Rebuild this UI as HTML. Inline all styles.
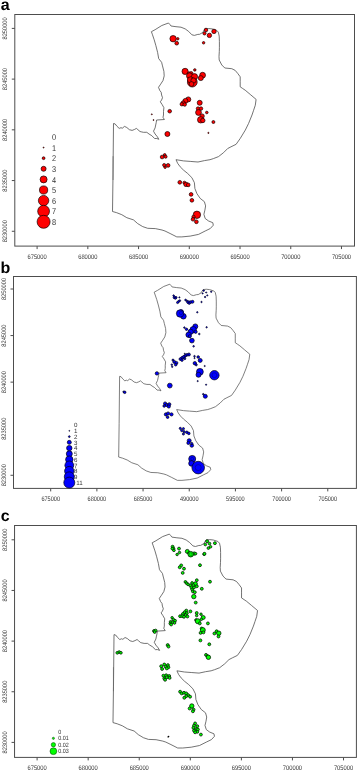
<!DOCTYPE html>
<html><head><meta charset="utf-8"><style>
html,body{margin:0;padding:0;background:#fff;}
body{width:358px;height:771px;overflow:hidden;}
svg{display:block;will-change:transform;filter:blur(0.3px);text-rendering:geometricPrecision;}
.lab{font:bold 16px 'Liberation Sans',sans-serif;fill:#000;}
.tl{font:6.6px 'Liberation Sans',sans-serif;fill:#333;}
.tly{font:6.5px 'Liberation Sans',sans-serif;fill:#333;}
.lg{font:8.4px 'Liberation Sans',sans-serif;fill:#333;}
.frame{fill:none;stroke:#4d4d4d;stroke-width:1.0;}
.tick{stroke:#4d4d4d;stroke-width:1.0;}
.poly{fill:none;stroke:#444;stroke-width:0.75;stroke-linejoin:round;}
.r{fill:#f00;stroke:#100;stroke-width:0.7;}
.bl{fill:#00f;stroke:#001;stroke-width:0.7;}
.g{fill:#0f0;stroke:#010;stroke-width:0.75;}
.gl{fill:#0f0;stroke:#030;stroke-width:0.5;}
.ring{fill:none;stroke:#002;stroke-width:0.4;opacity:0.8;}
.lgb{font:6.2px 'Liberation Sans',sans-serif;fill:#333;}
.lgc{font:6.2px 'Liberation Sans',sans-serif;fill:#333;}
</style></head><body>
<svg width="358" height="771" viewBox="0 0 358 771">
<defs><path id="P" d="M158.8,139.3 157.4,136.8 155.1,134 153.5,131.2 155.1,127.9 155.7,125 156.2,122.7 156.6,120 164.4,119.5 163,117.3 163.5,115 163.5,111.4 163.9,107.7 162.1,104.5 160.3,101.8 161.6,100 162.5,97.7 161.6,95 161.2,92.3 159.8,90.5 158.5,87.3 160.7,84.1 163,80.5 164.2,75.9 163.9,71.4 162.5,65.9 161.6,62.3 158.7,58.6 157.6,52.4 155.9,45.7 154.2,39.8 152.5,34.8 151.4,31.7 155.1,29.7 161.8,25.5 168.5,23 169.8,24.4 171,26 176,26.7 181,27.2 185.2,28.9 188.6,31.4 191.9,34.8 194.4,35.4 197.8,34.4 199.6,34.3 202.7,32.5 204.9,28.9 208.5,28.5 212.1,28.9 216.6,30.3 218.3,32.1 219.2,36.1 219.4,41.4 219.4,47.7 219.3,51.5 219,56.5 219.2,60 221.8,65 224.8,68 231.8,68.7 235.2,70.4 237.7,73.4 240.2,76.8 240.2,81.8 240.2,86.8 242.7,88.5 245.2,90.2 250.2,94.4 256.1,99.4 255.3,105.2 253.6,110.3 252,115 248.6,123.4 245.3,130.1 240.2,138.5 236.1,144.3 231,146.8 227.7,148.5 223.5,152.7 218.5,156.6 213.4,158.6 210,159.7 204.5,160.6 198,162 190.2,161.4 183.5,160.9 176,159.7 177.7,163.4 180.2,166.8 183.5,170.1 187.7,173.5 191.9,177.7 194.4,182.7 194.9,188.5 196.9,193.6 200.2,198.4 204.4,201.7 205.6,205.9 204.9,210.1 203.9,214.3 205.2,218.5 208.6,221 212.8,222.7 213.3,225.2 210.3,228.5 205.2,231 198.5,234.4 190.2,236.1 181.8,236.9 176.8,236.9 170.1,233.5 165,231 162,230 155.3,228.6 147.7,228.3 142.7,226.6 137.7,223.6 133.5,219.9 126.8,217.7 121.8,214.7 116.7,212.7 112.5,211.5 113,175 113.5,123.5 115.1,123.9 116.9,126.2 119.2,128.4 121,127.7 122.3,128.2 124.5,126.4 126.8,127.5 129.4,129.7 132.1,130.4 134.4,129.5 136.4,128.4 137.9,129.7 140,131.5 141.2,131.8 143.4,132.3 146.8,132.3 149,134 151.8,135.7 154.6,138.5 156.8,138.5Z"/></defs>

<text x="0.7" y="9.85" class="lab">a</text>
<rect x="14.8" y="14.5" width="339.7" height="231.6" class="frame"/>
<line x1="37.1" y1="246.1" x2="37.1" y2="249.1" class="tick"/>
<text x="37.1" y="259.1" class="tl" text-anchor="middle" textLength="19.2" lengthAdjust="spacingAndGlyphs">675000</text>
<line x1="87.83" y1="246.1" x2="87.83" y2="249.1" class="tick"/>
<text x="87.83" y="259.1" class="tl" text-anchor="middle" textLength="19.2" lengthAdjust="spacingAndGlyphs">680000</text>
<line x1="138.56" y1="246.1" x2="138.56" y2="249.1" class="tick"/>
<text x="138.56" y="259.1" class="tl" text-anchor="middle" textLength="19.2" lengthAdjust="spacingAndGlyphs">685000</text>
<line x1="189.29" y1="246.1" x2="189.29" y2="249.1" class="tick"/>
<text x="189.29" y="259.1" class="tl" text-anchor="middle" textLength="19.2" lengthAdjust="spacingAndGlyphs">690000</text>
<line x1="240.02" y1="246.1" x2="240.02" y2="249.1" class="tick"/>
<text x="240.02" y="259.1" class="tl" text-anchor="middle" textLength="19.2" lengthAdjust="spacingAndGlyphs">695000</text>
<line x1="290.75" y1="246.1" x2="290.75" y2="249.1" class="tick"/>
<text x="290.75" y="259.1" class="tl" text-anchor="middle" textLength="19.2" lengthAdjust="spacingAndGlyphs">700000</text>
<line x1="341.48" y1="246.1" x2="341.48" y2="249.1" class="tick"/>
<text x="341.48" y="259.1" class="tl" text-anchor="middle" textLength="19.2" lengthAdjust="spacingAndGlyphs">705000</text>
<line x1="11.8" y1="28.4" x2="14.8" y2="28.4" class="tick"/>
<text transform="translate(7.3,28.4) rotate(-90)" class="tly" text-anchor="middle" textLength="22.2" lengthAdjust="spacingAndGlyphs">8250000</text>
<line x1="11.8" y1="79.12" x2="14.8" y2="79.12" class="tick"/>
<text transform="translate(7.3,79.12) rotate(-90)" class="tly" text-anchor="middle" textLength="22.2" lengthAdjust="spacingAndGlyphs">8245000</text>
<line x1="11.8" y1="129.84" x2="14.8" y2="129.84" class="tick"/>
<text transform="translate(7.3,129.84) rotate(-90)" class="tly" text-anchor="middle" textLength="22.2" lengthAdjust="spacingAndGlyphs">8240000</text>
<line x1="11.8" y1="180.56" x2="14.8" y2="180.56" class="tick"/>
<text transform="translate(7.3,180.56) rotate(-90)" class="tly" text-anchor="middle" textLength="22.2" lengthAdjust="spacingAndGlyphs">8235000</text>
<line x1="11.8" y1="231.28" x2="14.8" y2="231.28" class="tick"/>
<text transform="translate(7.3,231.28) rotate(-90)" class="tly" text-anchor="middle" textLength="22.2" lengthAdjust="spacingAndGlyphs">8230000</text>
<use href="#P" class="poly"/>
<line x1="113.06" y1="156.2" x2="113.06" y2="180" stroke="#666" stroke-width="0.7"/>
<circle cx="173.1" cy="38.7" r="3.2" class="r"/>
<circle cx="177.8" cy="38.8" r="1.2" class="r"/>
<circle cx="176.7" cy="43.2" r="1.85" class="r"/>
<circle cx="206" cy="30" r="1.8" class="r"/>
<circle cx="204.5" cy="33.4" r="1.6" class="r"/>
<circle cx="209.4" cy="35.4" r="2.2" class="r"/>
<circle cx="214" cy="31.4" r="2.2" class="r"/>
<circle cx="203.6" cy="42.8" r="1.25" class="r"/>
<circle cx="192.3" cy="82.1" r="4.9" class="r"/>
<circle cx="185.1" cy="71.4" r="3.1" class="r"/>
<circle cx="194.8" cy="69.9" r="1.25" class="r"/>
<circle cx="202.6" cy="75.2" r="2.9" class="r"/>
<circle cx="200.8" cy="78.1" r="2.5" class="r"/>
<circle cx="189.2" cy="73.6" r="1.8" class="r"/>
<circle cx="191.2" cy="73.4" r="1.8" class="r"/>
<circle cx="189.6" cy="75.9" r="3.1" class="r"/>
<circle cx="194.5" cy="76.7" r="3.1" class="r"/>
<circle cx="190.5" cy="79.9" r="3.1" class="r"/>
<circle cx="193.5" cy="80.5" r="2.6" class="r"/>
<circle cx="191.5" cy="84" r="2.4" class="r"/>
<circle cx="188.3" cy="99.4" r="2.5" class="r"/>
<circle cx="185.4" cy="100.9" r="2.5" class="r"/>
<circle cx="183.2" cy="103.1" r="2.2" class="r"/>
<circle cx="181.8" cy="104.2" r="1.75" class="r"/>
<circle cx="184.7" cy="104.5" r="1.75" class="r"/>
<circle cx="169.7" cy="111.2" r="1.8" class="r"/>
<circle cx="199.7" cy="102.8" r="2.5" class="r"/>
<circle cx="198" cy="108.6" r="1.75" class="r"/>
<circle cx="201" cy="108.6" r="1.75" class="r"/>
<circle cx="198.5" cy="112.5" r="2.9" class="r"/>
<circle cx="206.8" cy="112.5" r="1.3" class="r"/>
<circle cx="202.1" cy="116.1" r="2.2" class="r"/>
<circle cx="200.7" cy="119.8" r="3.2" class="r"/>
<circle cx="202.8" cy="120.5" r="2.2" class="r"/>
<circle cx="213.4" cy="122" r="1.5" class="r"/>
<circle cx="208.4" cy="132.9" r="0.6" class="r"/>
<circle cx="151.8" cy="114.3" r="0.5" class="r"/>
<circle cx="153.5" cy="120" r="0.5" class="r"/>
<circle cx="167.4" cy="134" r="2.5" class="r"/>
<circle cx="162.1" cy="157" r="1.85" class="r"/>
<circle cx="164.7" cy="155" r="1.4" class="r"/>
<circle cx="165.6" cy="156.7" r="1.5" class="r"/>
<circle cx="164.2" cy="165.1" r="1.6" class="r"/>
<circle cx="168.1" cy="165.4" r="1.85" class="r"/>
<circle cx="165.1" cy="167.3" r="1.2" class="r"/>
<circle cx="179.8" cy="182.3" r="1.85" class="r"/>
<circle cx="184.4" cy="182.7" r="1.5" class="r"/>
<circle cx="186" cy="184.4" r="2.2" class="r"/>
<circle cx="188.2" cy="184.9" r="1.85" class="r"/>
<circle cx="191.1" cy="194.4" r="1.85" class="r"/>
<circle cx="191.9" cy="200.3" r="1.85" class="r"/>
<circle cx="196.9" cy="214.8" r="3.7" class="r"/>
<circle cx="193.5" cy="216.8" r="1.6" class="r"/>
<circle cx="193" cy="219.3" r="1.8" class="r"/>
<circle cx="196.4" cy="221.8" r="1.85" class="r"/>
<text x="52.1" y="140.2" class="lg" textLength="4.1" lengthAdjust="spacingAndGlyphs">0</text>
<circle cx="43.6" cy="147.6" r="0.5" class="r"/>
<text x="52.1" y="150.8" class="lg" textLength="4.1" lengthAdjust="spacingAndGlyphs">1</text>
<circle cx="43.6" cy="158.2" r="1.4" class="r"/>
<text x="52.1" y="161.4" class="lg" textLength="4.1" lengthAdjust="spacingAndGlyphs">2</text>
<circle cx="43.6" cy="168.8" r="2.5" class="r"/>
<text x="52.1" y="172" class="lg" textLength="4.1" lengthAdjust="spacingAndGlyphs">3</text>
<circle cx="43.6" cy="179.4" r="3.5" class="r"/>
<text x="52.1" y="182.6" class="lg" textLength="4.1" lengthAdjust="spacingAndGlyphs">4</text>
<circle cx="43.6" cy="190" r="4.1" class="r"/>
<text x="52.1" y="193.2" class="lg" textLength="4.1" lengthAdjust="spacingAndGlyphs">5</text>
<circle cx="43.6" cy="200.6" r="5.2" class="r"/>
<text x="52.1" y="203.8" class="lg" textLength="4.1" lengthAdjust="spacingAndGlyphs">6</text>
<circle cx="43.6" cy="211.2" r="5.9" class="r"/>
<text x="52.1" y="214.4" class="lg" textLength="4.1" lengthAdjust="spacingAndGlyphs">7</text>
<circle cx="43.6" cy="221.8" r="6.5" class="r"/>
<text x="52.1" y="225" class="lg" textLength="4.1" lengthAdjust="spacingAndGlyphs">8</text>
<text x="0.5" y="272.9" class="lab">b</text>
<rect x="13.5" y="276.5" width="342.9" height="211.9" class="frame"/>
<line x1="50.7" y1="488.4" x2="50.7" y2="491.4" class="tick"/>
<text x="50.7" y="501.1" class="tl" text-anchor="middle" textLength="18.6" lengthAdjust="spacingAndGlyphs">675000</text>
<line x1="96.88" y1="488.4" x2="96.88" y2="491.4" class="tick"/>
<text x="96.88" y="501.1" class="tl" text-anchor="middle" textLength="18.6" lengthAdjust="spacingAndGlyphs">680000</text>
<line x1="143.06" y1="488.4" x2="143.06" y2="491.4" class="tick"/>
<text x="143.06" y="501.1" class="tl" text-anchor="middle" textLength="18.6" lengthAdjust="spacingAndGlyphs">685000</text>
<line x1="189.24" y1="488.4" x2="189.24" y2="491.4" class="tick"/>
<text x="189.24" y="501.1" class="tl" text-anchor="middle" textLength="18.6" lengthAdjust="spacingAndGlyphs">490000</text>
<line x1="235.42" y1="488.4" x2="235.42" y2="491.4" class="tick"/>
<text x="235.42" y="501.1" class="tl" text-anchor="middle" textLength="18.6" lengthAdjust="spacingAndGlyphs">595000</text>
<line x1="281.6" y1="488.4" x2="281.6" y2="491.4" class="tick"/>
<text x="281.6" y="501.1" class="tl" text-anchor="middle" textLength="18.6" lengthAdjust="spacingAndGlyphs">700000</text>
<line x1="327.78" y1="488.4" x2="327.78" y2="491.4" class="tick"/>
<text x="327.78" y="501.1" class="tl" text-anchor="middle" textLength="18.6" lengthAdjust="spacingAndGlyphs">705000</text>
<line x1="10.5" y1="289" x2="13.5" y2="289" class="tick"/>
<text transform="translate(5.6,289) rotate(-90)" class="tly" text-anchor="middle" textLength="22.2" lengthAdjust="spacingAndGlyphs">8250000</text>
<line x1="10.5" y1="335.57" x2="13.5" y2="335.57" class="tick"/>
<text transform="translate(5.6,335.57) rotate(-90)" class="tly" text-anchor="middle" textLength="22.2" lengthAdjust="spacingAndGlyphs">8245000</text>
<line x1="10.5" y1="382.14" x2="13.5" y2="382.14" class="tick"/>
<text transform="translate(5.6,382.14) rotate(-90)" class="tly" text-anchor="middle" textLength="22.2" lengthAdjust="spacingAndGlyphs">8240000</text>
<text transform="translate(5.6,428.71) rotate(-90)" class="tly" text-anchor="middle" textLength="22.2" lengthAdjust="spacingAndGlyphs">8235000</text>
<line x1="10.5" y1="475.28" x2="13.5" y2="475.28" class="tick"/>
<text transform="translate(5.6,475.28) rotate(-90)" class="tly" text-anchor="middle" textLength="22.2" lengthAdjust="spacingAndGlyphs">8230000</text>
<use href="#P" class="poly" transform="matrix(0.913,0,0,0.917,15.97,263.11)"/>
<circle cx="173.6" cy="295.6" r="0.8" class="bl"/>
<circle cx="174.4" cy="297.4" r="1.3" class="bl"/>
<circle cx="175.4" cy="298.2" r="1.1" class="bl"/>
<circle cx="176.2" cy="297.4" r="0.9" class="bl"/>
<circle cx="179.4" cy="297.4" r="0.6" class="bl"/>
<circle cx="177.6" cy="302.5" r="1.1" class="bl"/>
<circle cx="178.7" cy="301.4" r="1" class="bl"/>
<circle cx="179.8" cy="300.6" r="0.9" class="bl"/>
<circle cx="185.6" cy="300" r="0.9" class="bl"/>
<circle cx="187.1" cy="301.1" r="0.9" class="bl"/>
<circle cx="188.2" cy="302.2" r="1.45" class="bl"/>
<circle cx="190.3" cy="302.2" r="1.45" class="bl"/>
<circle cx="192.5" cy="301.8" r="1.45" class="bl"/>
<circle cx="189.2" cy="303.3" r="1.1" class="bl"/>
<circle cx="201.5" cy="302" r="0.7" class="bl"/>
<circle cx="181.2" cy="311.8" r="2.2" class="bl"/>
<circle cx="183.4" cy="316.3" r="2.8" class="bl"/>
<circle cx="180.1" cy="313.5" r="3.7" class="bl"/>
<circle cx="197.3" cy="312.3" r="0.7" class="bl"/>
<circle cx="203.7" cy="290.6" r="0.8" class="bl"/>
<circle cx="202.6" cy="293.4" r="0.6" class="bl"/>
<circle cx="206.2" cy="292.5" r="0.6" class="bl"/>
<circle cx="207.3" cy="295.4" r="0.6" class="bl"/>
<circle cx="205.1" cy="297" r="0.7" class="bl"/>
<circle cx="211.2" cy="291.7" r="0.7" class="bl"/>
<circle cx="195.3" cy="326.4" r="2.5" class="bl"/>
<circle cx="193.2" cy="329.7" r="3.2" class="bl"/>
<circle cx="195.6" cy="331.8" r="1.6" class="bl"/>
<circle cx="190.7" cy="331.8" r="2.6" class="bl"/>
<circle cx="188.6" cy="334.8" r="2.7" class="bl"/>
<circle cx="189.8" cy="336.2" r="1.5" class="bl"/>
<circle cx="184.4" cy="327.6" r="0.8" class="bl"/>
<circle cx="186.5" cy="329.3" r="1.2" class="bl"/>
<circle cx="191.9" cy="340.6" r="2.35" class="bl"/>
<circle cx="193.6" cy="346.3" r="0.8" class="bl"/>
<circle cx="199.3" cy="334" r="0.8" class="bl"/>
<circle cx="206.6" cy="327.3" r="0.7" class="bl"/>
<circle cx="188.9" cy="354.5" r="1.5" class="bl"/>
<circle cx="186.9" cy="354.9" r="1.3" class="bl"/>
<circle cx="185.1" cy="355.9" r="1.4" class="bl"/>
<circle cx="183.7" cy="357" r="1.5" class="bl"/>
<circle cx="182" cy="358" r="1.4" class="bl"/>
<circle cx="180.4" cy="359.1" r="1.4" class="bl"/>
<circle cx="182" cy="360.1" r="1.3" class="bl"/>
<circle cx="184.8" cy="358.7" r="1" class="bl"/>
<circle cx="184.8" cy="353.6" r="0.5" class="bl"/>
<circle cx="173" cy="360.1" r="1.05" class="bl"/>
<circle cx="174.3" cy="361.9" r="1.5" class="bl"/>
<circle cx="176.4" cy="362.9" r="1.5" class="bl"/>
<circle cx="175.7" cy="364.7" r="1.3" class="bl"/>
<circle cx="171.8" cy="364.7" r="0.8" class="bl"/>
<circle cx="172.2" cy="366.8" r="0.7" class="bl"/>
<circle cx="194.5" cy="356.2" r="0.8" class="bl"/>
<circle cx="194.5" cy="358.1" r="0.6" class="bl"/>
<circle cx="198.2" cy="357" r="1.3" class="bl"/>
<circle cx="200.2" cy="360.4" r="2" class="bl"/>
<circle cx="194.8" cy="363.2" r="1.7" class="bl"/>
<circle cx="196.2" cy="364.8" r="1.1" class="bl"/>
<circle cx="204.7" cy="366" r="0.6" class="bl"/>
<circle cx="199.9" cy="371.8" r="3.4" class="bl"/>
<circle cx="198.5" cy="374.8" r="2.5" class="bl"/>
<circle cx="214.4" cy="375.2" r="4.7" class="bl"/>
<circle cx="197.7" cy="381.1" r="0.6" class="bl"/>
<circle cx="206.1" cy="384.7" r="0.6" class="bl"/>
<circle cx="169.8" cy="385.6" r="2.4" class="bl"/>
<circle cx="205.3" cy="396.3" r="2" class="bl"/>
<circle cx="203.3" cy="394.2" r="0.8" class="bl"/>
<circle cx="156.9" cy="373.4" r="1.7" class="bl"/>
<circle cx="124.7" cy="392.3" r="1.3" class="bl"/>
<circle cx="123.5" cy="391.8" r="0.7" class="bl"/>
<circle cx="165.1" cy="403.5" r="1.6" class="bl"/>
<circle cx="166.8" cy="405" r="1.6" class="bl"/>
<circle cx="169.3" cy="404.3" r="1.6" class="bl"/>
<circle cx="168.8" cy="406.5" r="1.6" class="bl"/>
<circle cx="164.2" cy="406" r="1.3" class="bl"/>
<circle cx="165.9" cy="414.4" r="1.6" class="bl"/>
<circle cx="168.1" cy="413.5" r="1.6" class="bl"/>
<circle cx="171.5" cy="414.4" r="1.6" class="bl"/>
<circle cx="167.6" cy="417.2" r="1.3" class="bl"/>
<circle cx="180.3" cy="428.4" r="1.1" class="bl"/>
<circle cx="183.4" cy="428.7" r="1.1" class="bl"/>
<circle cx="181.7" cy="430.6" r="1.1" class="bl"/>
<circle cx="184" cy="431.7" r="1.1" class="bl"/>
<circle cx="186.8" cy="432.3" r="1.3" class="bl"/>
<circle cx="188.8" cy="433.4" r="1.3" class="bl"/>
<circle cx="183.4" cy="434" r="1.1" class="bl"/>
<circle cx="189.2" cy="440.7" r="2" class="bl"/>
<circle cx="188.4" cy="442.9" r="1.6" class="bl"/>
<circle cx="191.8" cy="445.5" r="1.8" class="bl"/>
<circle cx="191.8" cy="443.5" r="1.1" class="bl"/>
<circle cx="192.2" cy="458.9" r="3.5" class="bl"/>
<circle cx="191.5" cy="463.4" r="2.8" class="bl"/>
<circle cx="198.2" cy="467.6" r="6.3" class="bl"/>
<circle cx="214.4" cy="375.2" r="2.4" class="ring"/>
<circle cx="192.2" cy="458.9" r="1.5" class="ring"/>
<circle cx="198.2" cy="467.6" r="3" class="ring"/>
<circle cx="181" cy="313" r="1.6" class="ring"/>
<circle cx="69.3" cy="430.85" r="0.45" class="bl"/>
<circle cx="69.3" cy="436.6" r="0.9" class="bl"/>
<circle cx="69.3" cy="442.35" r="2.0" class="bl"/>
<circle cx="69.3" cy="448.1" r="2.7" class="bl"/>
<circle cx="69.3" cy="453.85" r="3.0" class="bl"/>
<circle cx="69.3" cy="459.6" r="3.7" class="bl"/>
<circle cx="69.3" cy="465.35" r="4.4" class="bl"/>
<circle cx="69.3" cy="471.1" r="4.7" class="bl"/>
<circle cx="69.3" cy="476.85" r="5.0" class="bl"/>
<circle cx="69.3" cy="482.6" r="5.5" class="bl"/>
<text x="74" y="427.3" class="lgb">0</text>
<text x="74" y="433.05" class="lgb">1</text>
<text x="74" y="438.8" class="lgb">2</text>
<text x="74" y="444.55" class="lgb">3</text>
<text x="74" y="450.3" class="lgb">4</text>
<text x="74" y="456.05" class="lgb">5</text>
<text x="74" y="461.8" class="lgb">6</text>
<text x="74" y="467.55" class="lgb">7</text>
<text x="74" y="473.3" class="lgb">8</text>
<text x="74" y="479.05" class="lgb">9</text>
<text x="76.3" y="484.8" class="lgb">11</text>
<text x="0.8" y="520.5" class="lab">c</text>
<rect x="14.55" y="525.5" width="341.85" height="231.9" class="frame"/>
<line x1="37.1" y1="757.4" x2="37.1" y2="760.4" class="tick"/>
<text x="37.1" y="769.9" class="tl" text-anchor="middle" textLength="19.2" lengthAdjust="spacingAndGlyphs">675000</text>
<line x1="88.17" y1="757.4" x2="88.17" y2="760.4" class="tick"/>
<text x="88.17" y="769.9" class="tl" text-anchor="middle" textLength="19.2" lengthAdjust="spacingAndGlyphs">680000</text>
<line x1="139.24" y1="757.4" x2="139.24" y2="760.4" class="tick"/>
<text x="139.24" y="769.9" class="tl" text-anchor="middle" textLength="19.2" lengthAdjust="spacingAndGlyphs">685000</text>
<line x1="190.31" y1="757.4" x2="190.31" y2="760.4" class="tick"/>
<text x="190.31" y="769.9" class="tl" text-anchor="middle" textLength="19.2" lengthAdjust="spacingAndGlyphs">690000</text>
<line x1="241.38" y1="757.4" x2="241.38" y2="760.4" class="tick"/>
<text x="241.38" y="769.9" class="tl" text-anchor="middle" textLength="19.2" lengthAdjust="spacingAndGlyphs">695000</text>
<line x1="292.45" y1="757.4" x2="292.45" y2="760.4" class="tick"/>
<text x="292.45" y="769.9" class="tl" text-anchor="middle" textLength="19.2" lengthAdjust="spacingAndGlyphs">700000</text>
<line x1="343.52" y1="757.4" x2="343.52" y2="760.4" class="tick"/>
<text x="343.52" y="769.9" class="tl" text-anchor="middle" textLength="19.2" lengthAdjust="spacingAndGlyphs">705000</text>
<line x1="11.55" y1="539.8" x2="14.55" y2="539.8" class="tick"/>
<text transform="translate(7,539.8) rotate(-90)" class="tly" text-anchor="middle" textLength="22.2" lengthAdjust="spacingAndGlyphs">8250000</text>
<line x1="11.55" y1="590.45" x2="14.55" y2="590.45" class="tick"/>
<text transform="translate(7,590.45) rotate(-90)" class="tly" text-anchor="middle" textLength="22.2" lengthAdjust="spacingAndGlyphs">8245000</text>
<line x1="11.55" y1="641.1" x2="14.55" y2="641.1" class="tick"/>
<text transform="translate(7,641.1) rotate(-90)" class="tly" text-anchor="middle" textLength="22.2" lengthAdjust="spacingAndGlyphs">8240000</text>
<line x1="11.55" y1="691.75" x2="14.55" y2="691.75" class="tick"/>
<text transform="translate(7,691.75) rotate(-90)" class="tly" text-anchor="middle" textLength="22.2" lengthAdjust="spacingAndGlyphs">8235000</text>
<line x1="11.55" y1="742.4" x2="14.55" y2="742.4" class="tick"/>
<text transform="translate(7,742.4) rotate(-90)" class="tly" text-anchor="middle" textLength="22.2" lengthAdjust="spacingAndGlyphs">8230000</text>
<use href="#P" class="poly" transform="matrix(1.0066,0,0,1,-0.249,511.1)"/>
<line x1="113.45" y1="667.2" x2="113.45" y2="691.2" stroke="#666" stroke-width="0.7"/>
<circle cx="172.6" cy="546.7" r="1.45" class="g"/>
<circle cx="173.4" cy="548.6" r="1.45" class="g"/>
<circle cx="173.9" cy="550.3" r="1.35" class="g"/>
<circle cx="172.3" cy="548.6" r="1.35" class="g"/>
<circle cx="179" cy="548.6" r="1.45" class="g"/>
<circle cx="179.5" cy="552.5" r="1.25" class="g"/>
<circle cx="177.1" cy="554.5" r="1.25" class="g"/>
<circle cx="187.3" cy="551.4" r="2" class="g"/>
<circle cx="189" cy="553.1" r="1.4" class="g"/>
<circle cx="194.3" cy="553.6" r="1.7" class="g"/>
<circle cx="190.7" cy="554.2" r="2.8" class="g"/>
<circle cx="204.1" cy="554.2" r="1.35" class="g"/>
<circle cx="181.2" cy="565.4" r="1.45" class="g"/>
<circle cx="179.7" cy="567.3" r="1.45" class="g"/>
<circle cx="184" cy="568.7" r="1.45" class="g"/>
<circle cx="182.7" cy="572.9" r="1.45" class="g"/>
<circle cx="200" cy="565.2" r="1.45" class="g"/>
<circle cx="207.1" cy="541.2" r="1.45" class="g"/>
<circle cx="205.3" cy="544.5" r="1.35" class="g"/>
<circle cx="209.5" cy="543.6" r="1.35" class="g"/>
<circle cx="210.6" cy="546.8" r="1.25" class="g"/>
<circle cx="208.4" cy="548.1" r="1.35" class="g"/>
<circle cx="214.9" cy="543.2" r="1.45" class="g"/>
<circle cx="204.5" cy="553.8" r="1.45" class="g"/>
<circle cx="195.6" cy="553.7" r="1.25" class="g"/>
<circle cx="185.4" cy="581.9" r="1.35" class="g"/>
<circle cx="186.7" cy="583.3" r="1.35" class="g"/>
<circle cx="188.1" cy="584.4" r="1.35" class="g"/>
<circle cx="196.8" cy="580.2" r="1.4" class="g"/>
<circle cx="192.1" cy="583" r="1.4" class="g"/>
<circle cx="195.4" cy="583.8" r="2" class="g"/>
<circle cx="190.4" cy="585.5" r="1.4" class="g"/>
<circle cx="193.5" cy="585.2" r="1.4" class="g"/>
<circle cx="191.5" cy="587.5" r="1.4" class="g"/>
<circle cx="194" cy="587.5" r="1.4" class="g"/>
<circle cx="196.8" cy="586.3" r="1.45" class="g"/>
<circle cx="192.1" cy="589.4" r="1.4" class="g"/>
<circle cx="192.9" cy="591.4" r="1.45" class="g"/>
<circle cx="194.8" cy="592.2" r="1.45" class="g"/>
<circle cx="193.8" cy="596.6" r="2.2" class="g"/>
<circle cx="195.7" cy="602.6" r="1.45" class="g"/>
<circle cx="201.8" cy="588.8" r="1.45" class="g"/>
<circle cx="210" cy="581.7" r="1.45" class="g"/>
<circle cx="186.3" cy="610.6" r="1.45" class="g"/>
<circle cx="190.4" cy="611.4" r="1.45" class="g"/>
<circle cx="184.6" cy="612.3" r="1.45" class="g"/>
<circle cx="186.8" cy="613.2" r="1.45" class="g"/>
<circle cx="182.9" cy="614" r="1.45" class="g"/>
<circle cx="185.7" cy="615.1" r="1.45" class="g"/>
<circle cx="180.1" cy="616.2" r="1.45" class="g"/>
<circle cx="182.3" cy="616.2" r="1.45" class="g"/>
<circle cx="184" cy="616.8" r="1.45" class="g"/>
<circle cx="187.4" cy="616.5" r="1.45" class="g"/>
<circle cx="172.1" cy="617.7" r="1.25" class="g"/>
<circle cx="173.4" cy="619.6" r="1.35" class="g"/>
<circle cx="175.1" cy="620.7" r="1.35" class="g"/>
<circle cx="170.6" cy="621.8" r="1.35" class="g"/>
<circle cx="172.3" cy="622.3" r="1.35" class="g"/>
<circle cx="174.5" cy="622.9" r="1.35" class="g"/>
<circle cx="170.3" cy="623.5" r="1.35" class="g"/>
<circle cx="171.2" cy="624.6" r="1.35" class="g"/>
<circle cx="196.7" cy="613" r="1.45" class="g"/>
<circle cx="196.7" cy="615.6" r="1.25" class="g"/>
<circle cx="201" cy="614.2" r="1.25" class="g"/>
<circle cx="203.2" cy="617.5" r="2" class="g"/>
<circle cx="201.4" cy="619.3" r="1.25" class="g"/>
<circle cx="196.1" cy="620.1" r="1.45" class="g"/>
<circle cx="197.8" cy="621.2" r="2.5" class="g"/>
<circle cx="199.8" cy="623.4" r="1.45" class="g"/>
<circle cx="207.9" cy="623.4" r="1.45" class="g"/>
<circle cx="201.7" cy="628.5" r="1.45" class="g"/>
<circle cx="202.8" cy="630.1" r="2.5" class="g"/>
<circle cx="200.6" cy="632.9" r="1.45" class="g"/>
<circle cx="203.4" cy="632.4" r="1.45" class="g"/>
<circle cx="216.6" cy="631.3" r="1.45" class="g"/>
<circle cx="214.4" cy="633.5" r="1.45" class="g"/>
<circle cx="218.8" cy="633.2" r="2.2" class="g"/>
<circle cx="218.5" cy="636.5" r="1.45" class="g"/>
<circle cx="200.4" cy="640.4" r="1.45" class="g"/>
<circle cx="209.3" cy="644.3" r="1.45" class="g"/>
<circle cx="206" cy="654.9" r="1.45" class="g"/>
<circle cx="207.5" cy="656.2" r="1.5" class="g"/>
<circle cx="208.4" cy="657.3" r="2.2" class="g"/>
<circle cx="154" cy="631" r="1.45" class="g"/>
<circle cx="155.6" cy="630.6" r="1.45" class="g"/>
<circle cx="154.7" cy="632.1" r="1.35" class="g"/>
<circle cx="167.7" cy="645.1" r="1.5" class="g"/>
<circle cx="168.5" cy="646.6" r="1.45" class="g"/>
<circle cx="117.3" cy="652.8" r="1.4" class="g"/>
<circle cx="119.2" cy="652" r="1.35" class="g"/>
<circle cx="120.9" cy="652.8" r="1.35" class="g"/>
<circle cx="161.2" cy="666.2" r="1.45" class="g"/>
<circle cx="164.3" cy="664.5" r="1.45" class="g"/>
<circle cx="167.9" cy="665.1" r="1.45" class="g"/>
<circle cx="165.6" cy="666.7" r="1.45" class="g"/>
<circle cx="168.4" cy="667.3" r="1.45" class="g"/>
<circle cx="162.1" cy="669" r="1.45" class="g"/>
<circle cx="166.8" cy="668.4" r="1.45" class="g"/>
<circle cx="163.4" cy="675.7" r="1.45" class="g"/>
<circle cx="166.2" cy="675.3" r="1.45" class="g"/>
<circle cx="169.2" cy="676" r="1.45" class="g"/>
<circle cx="164.3" cy="678.5" r="1.45" class="g"/>
<circle cx="166.8" cy="677.3" r="1.45" class="g"/>
<circle cx="165.1" cy="679.8" r="1.45" class="g"/>
<circle cx="169.6" cy="677.9" r="1.45" class="g"/>
<circle cx="180.1" cy="691.7" r="1.45" class="g"/>
<circle cx="181.7" cy="693.4" r="1.45" class="g"/>
<circle cx="184" cy="692.8" r="1.45" class="g"/>
<circle cx="186.2" cy="693.4" r="1.45" class="g"/>
<circle cx="188.1" cy="695.1" r="1.45" class="g"/>
<circle cx="190.1" cy="696.7" r="1.45" class="g"/>
<circle cx="186.2" cy="696.2" r="1.45" class="g"/>
<circle cx="184.3" cy="697.8" r="1.45" class="g"/>
<circle cx="191.8" cy="706" r="2.2" class="g"/>
<circle cx="189.6" cy="708.5" r="1.45" class="g"/>
<circle cx="193.5" cy="709.6" r="1.5" class="g"/>
<circle cx="192.9" cy="711.3" r="1.45" class="g"/>
<circle cx="195.1" cy="723.4" r="1.45" class="g"/>
<circle cx="194" cy="725.6" r="1.45" class="g"/>
<circle cx="197.3" cy="726.2" r="1.45" class="g"/>
<circle cx="193.4" cy="727.8" r="1.45" class="g"/>
<circle cx="196.2" cy="729" r="1.45" class="g"/>
<circle cx="197.9" cy="729.5" r="1.45" class="g"/>
<circle cx="194" cy="730.6" r="1.45" class="g"/>
<circle cx="197.3" cy="731.8" r="1.45" class="g"/>
<circle cx="195.1" cy="732.3" r="1.45" class="g"/>
<circle cx="200.9" cy="734.6" r="1.45" class="g"/>
<circle cx="190.7" cy="554.2" r="1.5" class="ring"/>
<ellipse cx="168.4" cy="736.7" rx="1.1" ry="0.75" transform="rotate(-35 168.4 736.7)" fill="#000"/>
<text x="58.3" y="733.7" class="lgc" textLength="3" lengthAdjust="spacingAndGlyphs">0</text>
<circle cx="53.4" cy="738.33" r="1.1" class="gl"/>
<text x="58.3" y="740.13" class="lgc" textLength="10.5" lengthAdjust="spacingAndGlyphs">0.01</text>
<circle cx="53.4" cy="744.76" r="2.2" class="gl"/>
<text x="58.3" y="746.56" class="lgc" textLength="10.5" lengthAdjust="spacingAndGlyphs">0.02</text>
<circle cx="53.4" cy="751.19" r="3.4" class="gl"/>
<text x="58.3" y="752.99" class="lgc" textLength="10.5" lengthAdjust="spacingAndGlyphs">0.03</text>
</svg></body></html>
